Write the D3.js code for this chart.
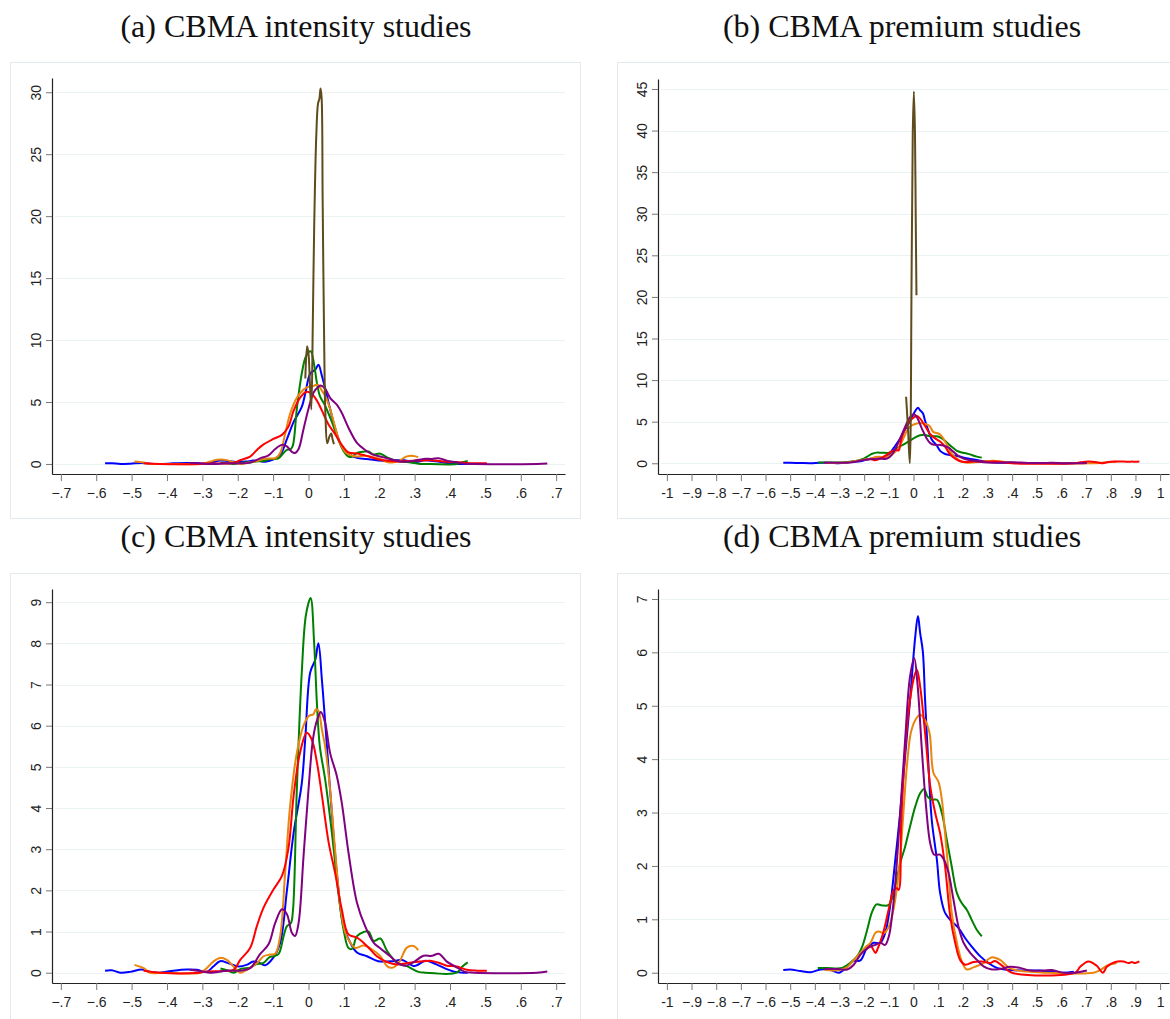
<!DOCTYPE html>
<html>
<head>
<meta charset="utf-8">
<script src="https://cdn.jsdelivr.net/npm/d3@7"></script>
<style>
  body { margin: 0; background: #fff; }
  .tick text { font-family: "Liberation Sans", Arial, sans-serif; font-size: 14px; fill: #222; }
  .title { font-family: "Liberation Serif", "Times New Roman", serif; font-size: 32px; fill: #111; }
</style>
</head>
<body>
<div id="chart"></div>
<script>
// Kernel density estimates: [x, density]
// Intensity studies (panels a and c)
const intensityBlue = [[-0.575,0.05],[-0.556,0.06],[-0.532,0.0],[-0.504,0.02],[-0.471,0.08],[-0.448,0.02],[-0.42,0.0],[-0.382,0.05],[-0.344,0.08],[-0.316,0.07],[-0.288,0.02],[-0.269,0.15],[-0.25,0.28],[-0.226,0.23],[-0.198,0.15],[-0.175,0.19],[-0.156,0.27],[-0.137,0.23],[-0.123,0.18],[-0.1,0.36],[-0.08,0.73],[-0.061,2.0],[-0.042,3.4],[-0.019,4.6],[-0.009,5.7],[0.005,7.3],[0.019,7.6],[0.028,8.0],[0.038,7.1],[0.047,6.1],[0.061,4.45],[0.08,2.43],[0.099,1.13],[0.118,0.73],[0.137,0.49],[0.165,0.4],[0.197,0.28],[0.24,0.28],[0.265,0.31],[0.3,0.16],[0.33,0.29],[0.36,0.21],[0.387,0.1],[0.415,0.02],[0.44,0.0],[0.45,0.0]];
const intensityGreen = [[-0.249,0.1],[-0.23,0.06],[-0.212,0.0],[-0.19,0.1],[-0.165,0.12],[-0.15,0.2],[-0.127,0.24],[-0.11,0.38],[-0.1,0.4],[-0.085,0.45],[-0.07,0.9],[-0.061,1.13],[-0.05,1.2],[-0.044,1.5],[-0.033,4.45],[-0.019,7.3],[-0.007,8.7],[0.006,9.1],[0.016,8.0],[0.024,6.5],[0.032,5.5],[0.047,4.7],[0.066,3.4],[0.085,1.9],[0.099,1.05],[0.113,0.6],[0.123,0.58],[0.137,0.89],[0.156,0.99],[0.17,1.0],[0.184,0.77],[0.203,0.83],[0.222,0.53],[0.25,0.24],[0.278,0.16],[0.311,0.02],[0.33,0.0],[0.419,0.0],[0.435,0.15],[0.45,0.25]];
const intensityOrange = [[-0.492,0.19],[-0.466,0.11],[-0.448,0.0],[-0.41,0.0],[-0.306,0.0],[-0.288,0.11],[-0.269,0.27],[-0.25,0.36],[-0.231,0.31],[-0.212,0.15],[-0.193,0.0],[-0.175,0.07],[-0.146,0.23],[-0.127,0.4],[-0.109,0.44],[-0.094,0.46],[-0.08,0.89],[-0.066,2.43],[-0.052,4.05],[-0.033,5.34],[-0.014,6.0],[0.0,6.23],[0.014,6.28],[0.021,6.4],[0.028,6.36],[0.038,5.9],[0.047,5.5],[0.061,4.45],[0.075,3.0],[0.09,1.62],[0.104,0.97],[0.118,0.73],[0.132,0.6],[0.156,0.66],[0.179,0.57],[0.203,0.4],[0.222,0.16],[0.236,0.12],[0.255,0.24],[0.278,0.61],[0.297,0.65],[0.31,0.55]];
const intensityRed = [[-0.466,0.05],[-0.42,0.0],[-0.31,0.0],[-0.288,0.03],[-0.24,0.04],[-0.212,0.07],[-0.193,0.31],[-0.165,0.6],[-0.146,1.13],[-0.127,1.58],[-0.099,2.02],[-0.075,2.35],[-0.057,3.0],[-0.042,4.3],[-0.024,5.34],[-0.005,5.83],[0.009,5.67],[0.024,5.1],[0.038,4.3],[0.057,3.16],[0.075,2.43],[0.094,1.54],[0.113,0.93],[0.137,0.85],[0.165,0.65],[0.193,0.4],[0.222,0.26],[0.25,0.2],[0.277,0.23],[0.315,0.27],[0.344,0.29],[0.372,0.23],[0.391,0.17],[0.419,0.15],[0.447,0.07],[0.476,0.05],[0.504,0.05]];
const intensityPurple = [[-0.335,0.07],[-0.3,0.03],[-0.278,0.0],[-0.231,0.05],[-0.193,0.05],[-0.165,0.11],[-0.137,0.45],[-0.113,0.69],[-0.094,1.21],[-0.075,1.54],[-0.061,1.42],[-0.047,0.97],[-0.038,0.89],[-0.028,1.21],[-0.014,2.83],[0.0,4.45],[0.014,5.75],[0.028,6.23],[0.035,6.33],[0.047,6.07],[0.061,5.34],[0.08,4.78],[0.094,4.13],[0.113,2.92],[0.137,1.7],[0.16,1.13],[0.184,0.73],[0.202,0.6],[0.231,0.4],[0.259,0.2],[0.275,0.17],[0.296,0.25],[0.325,0.41],[0.349,0.41],[0.368,0.46],[0.391,0.27],[0.415,0.15],[0.443,0.02],[0.467,0.0],[0.646,0.0],[0.675,0.03]];
const intensitySpike = [[-0.009,6.9],[-0.004,9.5],[0.0,8.9],[0.004,6.5],[0.008,4.4],[0.012,11],[0.016,19],[0.022,26.5],[0.027,29.1],[0.031,29.5],[0.034,30.3],[0.037,29.6],[0.04,21.3],[0.044,10.5],[0.048,3.8],[0.053,1.67],[0.059,2.2],[0.064,2.45],[0.068,2.0],[0.072,1.6]];

// Premium studies (panels b and d)
const premiumBlue = [[-0.528,0.05],[-0.5,0.06],[-0.458,0.03],[-0.418,0.01],[-0.377,0.06],[-0.336,0.05],[-0.303,0.0],[-0.269,0.11],[-0.242,0.22],[-0.215,0.23],[-0.189,0.46],[-0.162,0.56],[-0.135,0.56],[-0.115,0.74],[-0.095,1.24],[-0.074,2.11],[-0.054,2.99],[-0.034,4.05],[-0.014,5.11],[0.007,6.29],[0.018,6.68],[0.027,6.36],[0.038,6.01],[0.047,5.11],[0.061,3.86],[0.074,2.86],[0.095,2.11],[0.108,1.49],[0.128,1.12],[0.155,0.96],[0.182,0.84],[0.209,0.65],[0.236,0.49],[0.27,0.31],[0.304,0.18],[0.338,0.09],[0.392,0.05],[0.46,0.04],[0.513,0.04],[0.554,0.02],[0.608,0.0],[0.65,0.02]];
const premiumGreen = [[-0.388,0.09],[-0.35,0.09],[-0.289,0.09],[-0.255,0.19],[-0.228,0.31],[-0.208,0.49],[-0.188,0.8],[-0.168,1.14],[-0.15,1.28],[-0.127,1.26],[-0.1,1.27],[-0.074,1.62],[-0.054,2.05],[-0.034,2.36],[-0.014,2.74],[0.007,3.11],[0.027,3.36],[0.043,3.44],[0.057,3.3],[0.074,3.24],[0.095,3.24],[0.115,2.99],[0.135,2.49],[0.155,1.99],[0.176,1.49],[0.196,1.3],[0.216,1.18],[0.236,0.99],[0.257,0.8],[0.277,0.68]];
const premiumOrange = [[-0.36,0.05],[-0.3,0.05],[-0.27,0.1],[-0.24,0.25],[-0.21,0.4],[-0.19,0.5],[-0.174,0.56],[-0.154,0.75],[-0.14,0.77],[-0.12,0.74],[-0.1,0.86],[-0.085,1.1],[-0.074,1.37],[-0.057,1.99],[-0.041,2.99],[-0.027,3.86],[-0.011,4.49],[0.007,4.73],[0.027,4.83],[0.047,4.73],[0.065,4.49],[0.081,3.74],[0.101,3.58],[0.115,3.24],[0.128,2.61],[0.142,1.87],[0.155,1.12],[0.176,0.56],[0.196,0.21],[0.216,0.06],[0.243,0.1],[0.284,0.18],[0.318,0.29],[0.351,0.24],[0.392,0.08],[0.46,0.02],[0.54,0.0],[0.73,0.0],[0.757,0.05],[0.784,0.13],[0.824,0.18]];
const premiumRed = [[-0.19,0.44],[-0.174,0.5],[-0.154,0.37],[-0.147,0.43],[-0.127,0.68],[-0.113,0.93],[-0.1,1.2],[-0.08,1.55],[-0.068,1.58],[-0.06,1.55],[-0.05,2.8],[-0.034,4.17],[-0.014,5.11],[0.003,5.55],[0.014,5.67],[0.027,5.36],[0.047,4.49],[0.068,3.49],[0.088,2.99],[0.108,2.61],[0.128,1.99],[0.149,1.05],[0.169,0.56],[0.189,0.24],[0.209,0.15],[0.243,0.2],[0.277,0.21],[0.311,0.18],[0.33,0.22],[0.365,0.11],[0.399,0.0],[0.655,0.0],[0.676,0.11],[0.709,0.21],[0.743,0.13],[0.768,0.0],[0.784,0.11],[0.818,0.2],[0.851,0.21],[0.872,0.18],[0.885,0.2],[0.899,0.18],[0.916,0.21]];
const premiumPurple = [[-0.363,0.07],[-0.31,0.07],[-0.269,0.06],[-0.242,0.15],[-0.215,0.34],[-0.195,0.43],[-0.174,0.49],[-0.154,0.52],[-0.134,0.56],[-0.115,0.52],[-0.1,0.68],[-0.09,0.95],[-0.074,1.68],[-0.054,2.99],[-0.034,4.36],[-0.014,5.55],[0.003,5.89],[0.016,5.42],[0.034,4.17],[0.051,3.11],[0.068,2.42],[0.084,2.21],[0.108,2.21],[0.124,2.11],[0.142,1.87],[0.162,1.37],[0.182,0.87],[0.203,0.56],[0.23,0.37],[0.257,0.24],[0.284,0.12],[0.318,0.06],[0.351,0.07],[0.392,0.11],[0.432,0.09],[0.473,0.04],[0.527,0.04],[0.561,0.05],[0.608,0.0],[0.655,0.0],[0.703,0.04]];
const premiumSpike = [[-0.03,8.0],[-0.022,4.0],[-0.015,0.0],[-0.0075,23.6],[-0.003,39.7],[0.0015,44.7],[0.006,39.7],[0.009,29.6],[0.012,20.2]];

// Tick values
const xTicksIntensity = d3.range(-7, 8).map(d => d / 10);
const xTicksPremium = d3.range(-10, 11).map(d => d / 10);
const yTicksA = [0, 5, 10, 15, 20, 25, 30];
const yTicksB = [0, 5, 10, 15, 20, 25, 30, 35, 40, 45];
const yTicksC = [0, 1, 2, 3, 4, 5, 6, 7, 8, 9];
const yTicksD = [0, 1, 2, 3, 4, 5, 6, 7];

const colors = { blue: "#0000ff", green: "#008000", orange: "#ea850e", red: "#ff0000", purple: "#800080", brown: "#5f4b1c" };

let intensitySeries = [
  { c: colors.blue, d: intensityBlue },
  { c: colors.green, d: intensityGreen },
  { c: colors.orange, d: intensityOrange },
  { c: colors.red, d: intensityRed },
  { c: colors.purple, d: intensityPurple }
];
let premiumSeries = [
  { c: colors.blue, d: premiumBlue },
  { c: colors.green, d: premiumGreen },
  { c: colors.orange, d: premiumOrange },
  { c: colors.red, d: premiumRed },
  { c: colors.purple, d: premiumPurple }
];

let svg = d3.select("#chart")
  .append("svg")
  .attr("width", 1170)
  .attr("height", 1019);

// format like Stata: -.7, .1, 0, 1
function tickFmt(d) {
  if (Number.isInteger(d)) return String(d);
  return d3.format(".1f")(d).replace("0.", ".");
}

function drawPanel(p) {
  let g = svg.append("g");

  // graph region border
  g.append("rect")
    .attr("x", p.frame[0] + 0.5).attr("y", p.frame[1] + 0.5)
    .attr("width", p.frame[2]).attr("height", p.frame[3])
    .attr("fill", "none").attr("stroke", "#e2eaed").attr("stroke-width", 1);

  g.append("text")
    .attr("class", "title")
    .attr("x", p.titleX).attr("y", p.titleY)
    .attr("text-anchor", "middle")
    .text(p.title);

  let x = d3.scaleLinear().domain(p.xDomain).range([p.left, p.right]);
  let y = d3.scaleLinear().domain(p.yDomain).range([p.bottom, p.top]);

  // gridlines
  g.append("g")
    .selectAll("line")
    .data(p.yTicks)
    .join("line")
      .attr("x1", p.left + 3).attr("x2", p.right)
      .attr("y1", d => Math.round(y(d)) + 0.5).attr("y2", d => Math.round(y(d)) + 0.5)
      .attr("stroke", "#eaf2f3").attr("stroke-width", 1.2);

  // x axis
  let xAxisEl = g.append("g")
    .attr("transform", "translate(0," + p.bottom + ")")
    .call(d3.axisBottom(x).tickValues(p.xTicks).tickFormat(tickFmt).tickSize(7).tickSizeOuter(0));
  xAxisEl.select(".domain").attr("stroke", "#222").attr("stroke-width", 1.2);
  xAxisEl.selectAll(".tick line").attr("stroke", "#777");
  xAxisEl.selectAll(".tick text").attr("y", 24).attr("dy", 0);

  // y axis
  let yAxisEl = g.append("g")
    .attr("transform", "translate(" + p.left + ",0)")
    .call(d3.axisLeft(y).tickValues(p.yTicks).tickFormat(tickFmt).tickSize(6).tickSizeOuter(0));
  yAxisEl.select(".domain").attr("stroke", "#222").attr("stroke-width", 1.2);
  yAxisEl.selectAll(".tick line").attr("stroke", "#777");
  yAxisEl.selectAll(".tick text")
    .attr("transform", "rotate(-90)")
    .attr("x", 0).attr("y", -11).attr("dy", 0)
    .attr("text-anchor", "middle");

  let line = d3.line()
    .x(d => x(d[0]))
    .y(d => y(d[1]))
    .curve(d3.curveCatmullRom.alpha(0.5));

  g.append("g")
    .selectAll("path")
    .data(p.series)
    .join("path")
      .attr("d", s => line(s.d))
      .attr("fill", "none")
      .attr("stroke", s => s.c)
      .attr("stroke-width", 2)
      .attr("stroke-linejoin", "round");
}

drawPanel({
  title: "(a) CBMA intensity studies", titleX: 296, titleY: 37,
  frame: [10, 62, 570, 456],
  left: 52, right: 565, top: 78, bottom: 474,
  xDomain: [-0.725, 0.725], yDomain: [-0.81, 31.15],
  xTicks: xTicksIntensity, yTicks: yTicksA,
  series: intensitySeries.concat([{ c: colors.brown, d: intensitySpike }])
});

drawPanel({
  title: "(b) CBMA premium studies", titleX: 902, titleY: 37,
  frame: [617, 62, 570, 456],
  left: 658, right: 1169, top: 79, bottom: 474,
  xDomain: [-1.036, 1.036], yDomain: [-1.29, 46.2],
  xTicks: xTicksPremium, yTicks: yTicksB,
  series: premiumSeries.concat([{ c: colors.brown, d: premiumSpike }])
});

drawPanel({
  title: "(c) CBMA intensity studies", titleX: 296, titleY: 547,
  frame: [10, 573, 570, 470],
  left: 52, right: 565, top: 589, bottom: 983,
  xDomain: [-0.725, 0.725], yDomain: [-0.25, 9.32],
  xTicks: xTicksIntensity, yTicks: yTicksC,
  series: intensitySeries
});

drawPanel({
  title: "(d) CBMA premium studies", titleX: 902, titleY: 547,
  frame: [617, 573, 570, 470],
  left: 658, right: 1169, top: 589, bottom: 983,
  xDomain: [-1.036, 1.036], yDomain: [-0.193, 7.187],
  xTicks: xTicksPremium, yTicks: yTicksD,
  series: premiumSeries
});
</script>
</body>
</html>
